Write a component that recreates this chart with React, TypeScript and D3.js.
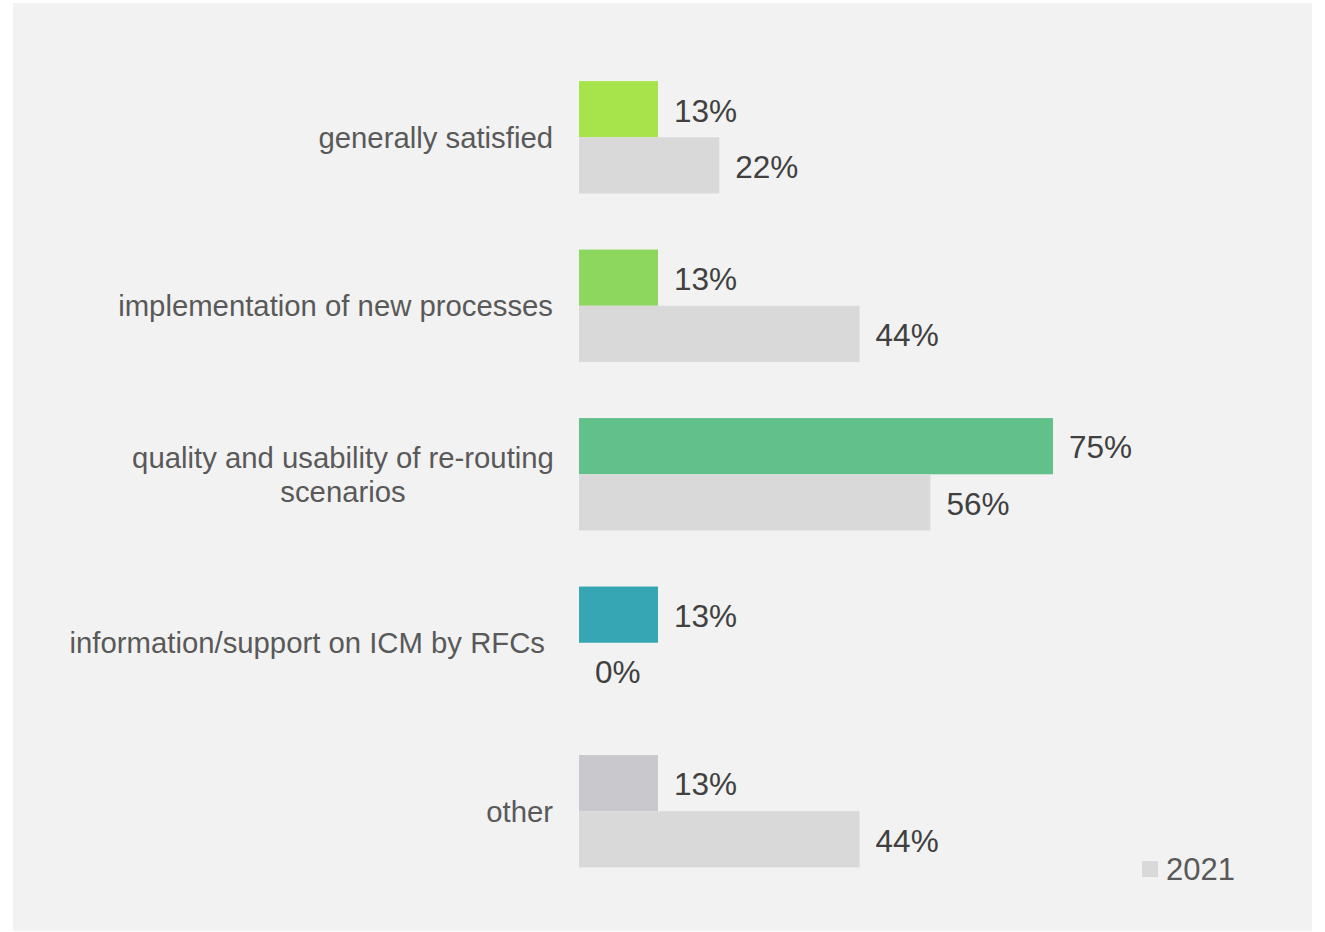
import React from "react";
import * as d3 from "d3";

const categories = [
  "generally satisfied",
  "implementation of new processes",
  "quality and usability of re-routing scenarios",
  "information/support on ICM by RFCs",
  "other",
];
const labelLines: string[][] = [
  ["generally satisfied"],
  ["implementation of new processes"],
  ["quality and usability of re-routing", "scenarios"],
  ["information/support on ICM by RFCs"],
  ["other"],
];
const values2022 = [12.5, 12.5, 75, 12.5, 12.5];
const values2021 = [22.2, 44.4, 55.6, 0, 44.4];
const colors2022 = ["#a7e34b", "#8dd75e", "#62c08b", "#37a6b4", "#c9c9cd"];
const color2021 = "#d9d9d9";
const series = ["2022", "2021"];
const legendLabel = "2021";

const W = 1325;
const H = 932;
const FONT = "'Liberation Sans', Arial, sans-serif";

export default function App() {
  const x = d3.scaleLinear().domain([0, 100]).range([579, 579 + 632]);
  const y = d3
    .scaleBand<string>()
    .domain(categories)
    .range([53, 895.5])
    .paddingInner(0.333)
    .paddingOuter(0.1667);
  const ys = d3.scaleBand<string>().domain(series).range([0, y.bandwidth()]);
  const fmt = (v: number) => `${Math.round(v)}%`;

  return (
    <div style={{ position: "absolute", left: 0, top: 0 }}>
      <svg width={W} height={H} style={{ display: "block", fontFamily: FONT }}>
        <rect x={0} y={0} width={W} height={H} fill="#ffffff" />
        <rect x={13} y={3} width={1299} height={928} fill="#f2f2f2" />
        {categories.map((c, i) => {
          const g0 = y(c)!;
          const y22 = g0 + ys("2022")!;
          const y21 = g0 + ys("2021")!;
          const bh = ys.bandwidth();
          const mid = g0 + y.bandwidth() / 2;
          const lines = labelLines[i];
          const multi = lines.length > 1;
          const lx = multi ? 343 : i === 3 ? 545 : 553;
          return (
            <g key={c}>
              <rect x={x(0)} y={y22} width={x(values2022[i]) - x(0)} height={bh} fill={colors2022[i]} />
              <rect x={x(0)} y={y21} width={x(values2021[i]) - x(0)} height={bh} fill={color2021} />
              <text x={x(values2022[i]) + 16} y={y22 + bh / 2 + 1} dy="0.36em" fontSize={31.5} fill="#404040">
                {fmt(values2022[i])}
              </text>
              <text x={x(values2021[i]) + 16} y={y21 + bh / 2 + 1} dy="0.36em" fontSize={31.5} fill="#404040">
                {fmt(values2021[i])}
              </text>
              {lines.map((ln, j) => (
                <text
                  key={j}
                  x={lx}
                  y={mid + (j - (lines.length - 1) / 2) * 34}
                  dy="0.36em"
                  fontSize={29.3}
                  fill="#595959"
                  textAnchor={multi ? "middle" : "end"}
                >
                  {ln}
                </text>
              ))}
            </g>
          );
        })}
        <rect x={1142} y={861} width={16} height={16} fill={color2021} />
        <text x={1166} y={869} dy="0.36em" fontSize={31} fill="#595959">
          {legendLabel}
        </text>
      </svg>
    </div>
  );
}
